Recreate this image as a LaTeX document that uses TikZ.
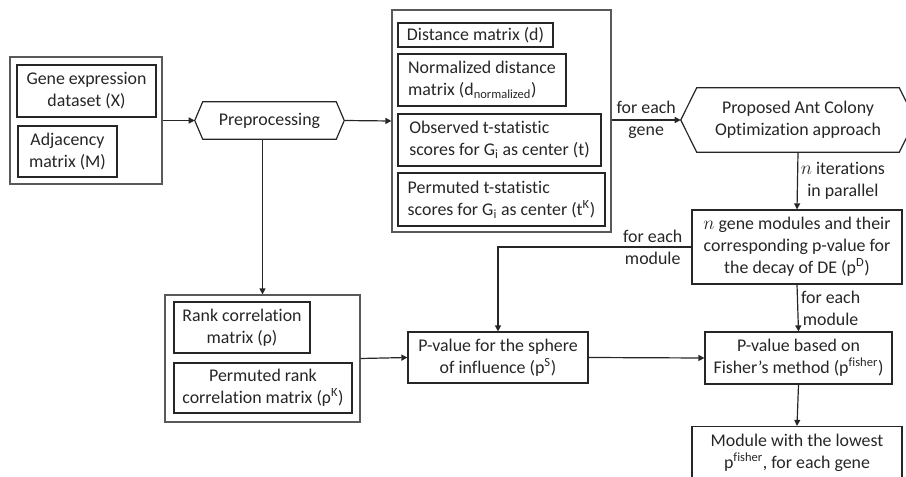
\documentclass[tikz,border=0pt]{standalone}
\usepackage{fontspec}
\setmainfont{Carlito}[Ligatures=NoCommon]
\usetikzlibrary{arrows.meta}
\newcommand{\hexframe}[2]{\draw[frame] (#1.west) -- ([xshift=#2]#1.north west) -- ([xshift=-#2]#1.north east) -- (#1.east) -- ([xshift=-#2]#1.south east) -- ([xshift=#2]#1.south west) -- cycle;}

\begin{document}
\begin{tikzpicture}[x=0.75pt,y=-0.75pt,
  txt/.style={font=\fontsize{13.4}{16.5}\selectfont,text=black!85},
  size/.style 2 args={minimum width=#1*0.75pt,minimum height=#2*0.75pt},
  box/.style={txt,draw=black!85,line width=0.9pt,align=center,inner sep=2pt},
  lbox/.style={box,align=left},
  group/.style={draw=black!65,line width=0.9pt,inner sep=0pt},
  frame/.style={draw=black!85,line width=0.9pt},
  lbl/.style={txt,align=center,inner sep=2pt},
  flow/.style={draw=black!85,line width=0.9pt,-{Triangle[length=4.5pt,width=4.5pt]}}]
\useasboundingbox (0,0) rectangle (906,477);
\clip (0,0) rectangle (906,477);
% input data
\node[group,size={152}{127}] (inputs) at (86,120.5) {};
\node[box,size={139}{52}] (expr) at (86.5,91) {Gene expression\\dataset (X)};
\node[box,size={99}{51}] (adj) at (67.5,151.5) {Adjacency\\matrix (M)};
\node[txt,size={149}{37}] (prep) at (269.5,120.5) {Preprocessing};
\hexframe{prep}{6pt}
% matrices from preprocessing
\node[group,size={219}{222}] (mats) at (501.5,121) {};
\node[lbox,size={155}{24}] (dist) at (475.5,35) {Distance matrix (d)};
\node[lbox,size={168}{52}] (ndist) at (482,80) {Normalized distance\\matrix (d\textsubscript{normalized})};
\node[lbox,size={203}{52}] (tobs) at (499.5,140) {Observed t-statistic\\scores for G\textsubscript{i} as center (t)};
\node[lbox,size={207}{53}] (tperm) at (501.5,199.5) {Permuted t-statistic\\scores for G\textsubscript{i} as center (t\textsuperscript{K})};
\node[group,size={195}{127}] (ranks) at (262.5,358.5) {};
\node[box,size={136}{51}] (rho) at (242,327.5) {Rank correlation\\matrix (ρ)};
\node[box,size={178}{50}] (rhoperm) at (263,388) {Permuted rank\\correlation matrix (ρ\textsuperscript{K})};
% search and scoring
\node[txt,align=center,size={234}{64}] (aco) at (798,120) {Proposed Ant Colony\\Optimization approach};
\hexframe{aco}{12pt}
\node[box,size={210}{74}] (modules) at (797,247) {$n$ gene modules and their\\corresponding p-value for\\the decay of DE (p\textsuperscript{D})};
\node[box,size={180}{51}] (sphere) at (498,357.5) {P-value for the sphere\\of influence (p\textsuperscript{S})};
\node[box,size={187}{52}] (fisher) at (798.5,358) {P-value based on\\Fisher’s method (p\textsuperscript{fisher})};
\node[box,size={210}{52}] (best) at (797,452.5) {Module with the lowest\\p\textsuperscript{fisher}, for each gene};
% connectors
\draw[flow] (inputs.east) -- (prep.west);
\draw[flow] (prep.east) -- (mats.west);
\draw[flow] (prep.south -| ranks.north) -- (ranks.north);
\draw[flow] (mats.east |- aco.west) -- node[lbl]{for each\\gene} (aco.west);
\draw[flow] (aco.south) -- node[lbl,right]{$n$ iterations\\in parallel} (modules.north);
\draw[flow] (modules.west) -| node[lbl,pos=0.1]{for each\\module} (sphere.north);
\draw[flow] (modules.south) -- node[lbl,right]{for each\\module} (fisher.north);
\draw[flow] (fisher.south) -- (best.north);
\draw[flow] (ranks.east) -- (sphere.west);
\draw[flow] (sphere.east) -- (fisher.west);
\end{tikzpicture}
\end{document}
